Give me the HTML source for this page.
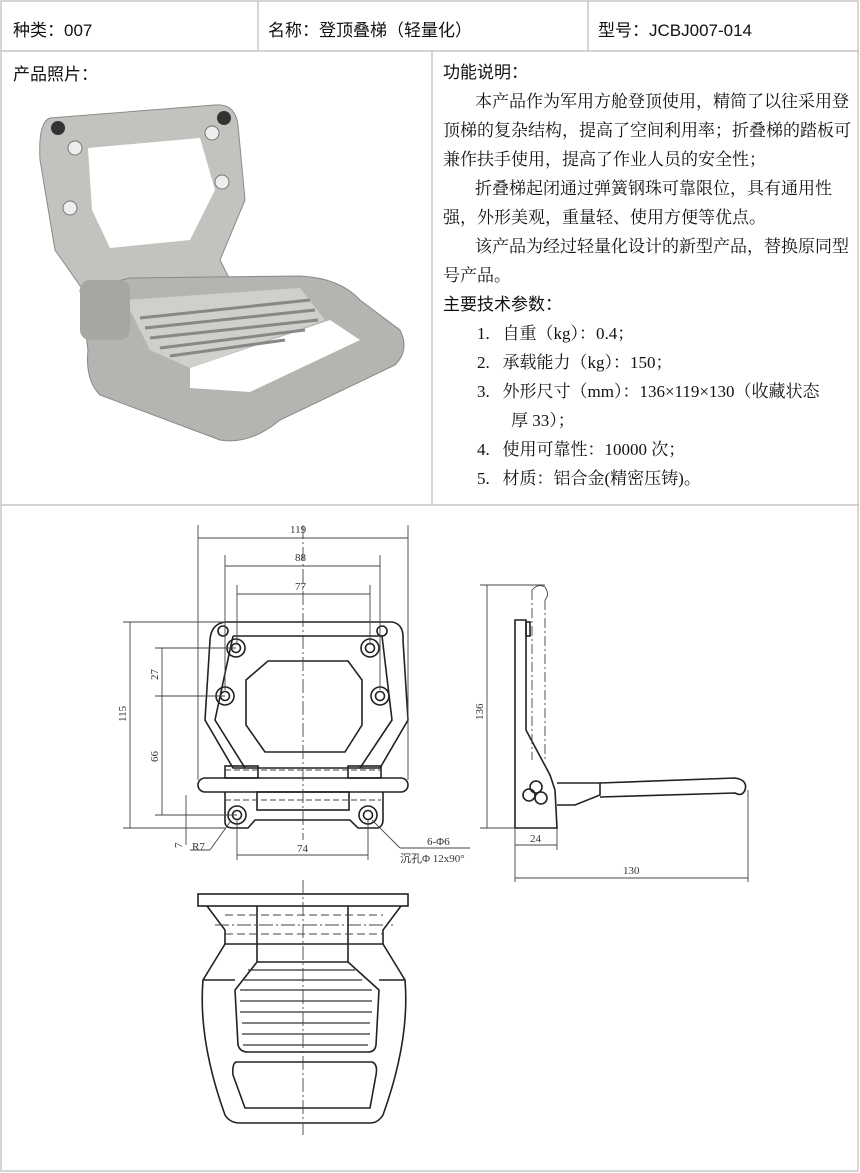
<!DOCTYPE html>
<html><head><meta charset="utf-8"><style>
body{margin:0;background:#fff;width:860px;height:1173px;position:relative;overflow:hidden;font-family:"Liberation Sans","Noto Sans CJK SC",sans-serif;}
.t{position:absolute;font-size:17px;color:#111;white-space:nowrap}
.p{position:absolute;font-family:"Liberation Serif","Noto Serif CJK SC",serif;font-size:17px;color:#111;white-space:nowrap}
</style></head><body>
<svg width="860" height="1173" style="position:absolute;left:0;top:0">
<g stroke="#bbb" stroke-width="1.2" fill="none">
<rect x="1" y="1" width="857" height="1170"/>
<line x1="1" y1="51" x2="859" y2="51"/>
<line x1="258" y1="1" x2="258" y2="51"/>
<line x1="588" y1="1" x2="588" y2="51"/>
<line x1="432" y1="51" x2="432" y2="505"/>
<line x1="1" y1="505" x2="859" y2="505"/>
</g>
<!-- photo -->
<g>
<path d="M50 118 L215 105 Q235 103 238 125 L245 200 L220 260 L240 300 L120 320 L90 300 L55 250 L40 160 Q38 122 50 118Z" fill="#c2c3be" stroke="#8a8b86"/>
<path d="M88 148 L200 138 L215 190 L190 240 L110 248 L92 210Z" fill="#fff"/>
<circle cx="58" cy="128" r="7" fill="#333"/><circle cx="224" cy="118" r="7" fill="#333"/>
<circle cx="75" cy="148" r="7" fill="#eee" stroke="#777"/><circle cx="212" cy="133" r="7" fill="#eee" stroke="#777"/>
<circle cx="70" cy="208" r="7" fill="#eee" stroke="#777"/><circle cx="222" cy="182" r="7" fill="#eee" stroke="#777"/>
<path d="M80 290 L130 278 L300 276 Q340 278 360 300 L400 330 Q410 350 395 365 L280 420 Q250 445 220 440 L100 395 Q85 380 88 350Z" fill="#b4b5b0" stroke="#888"/>
<path d="M190 368 L330 320 L360 340 L250 392 L190 388Z" fill="#fff"/>
<path d="M125 300 L300 288 L325 320 L190 368 L150 350Z" fill="#cfd0cb"/>
<g stroke="#888" stroke-width="3"><line x1="140" y1="318" x2="310" y2="300"/><line x1="145" y1="328" x2="315" y2="310"/><line x1="150" y1="338" x2="318" y2="320"/><line x1="160" y1="348" x2="305" y2="330"/><line x1="170" y1="356" x2="285" y2="340"/></g>
<rect x="80" y="280" width="50" height="60" rx="10" fill="#a6a7a2"/>
</g>
<!-- drawing -->
<g stroke="#222" stroke-width="1.6" fill="none">
<path d="M225 622 L392 622 Q404 624 403 640 L408 720 L380 768 L233 768 L205 720 L210 640 Q211 624 225 622Z"/>
<path d="M233 636 L382 636 L392 720 L360 768 M233 636 L215 720 L245 768"/>
<path d="M268 661 L348 661 L362 680 L362 725 L345 752 L265 752 L246 725 L246 680Z"/>
<rect x="198" y="778" width="210" height="14" rx="7"/>
<rect x="225" y="766" width="33" height="12"/><rect x="348" y="766" width="33" height="12"/>
<path d="M225 792 L225 823 Q226 828 233 828 L248 828 L255 820 L350 820 L358 828 L378 828 Q383 826 383 820 L383 792"/>
<rect x="257" y="792" width="92" height="18"/>
<circle cx="236" cy="648" r="9"/><circle cx="236" cy="648" r="4.5"/>
<circle cx="370" cy="648" r="9"/><circle cx="370" cy="648" r="4.5"/>
<circle cx="225" cy="696" r="9"/><circle cx="225" cy="696" r="4.5"/>
<circle cx="380" cy="696" r="9"/><circle cx="380" cy="696" r="4.5"/>
<circle cx="237" cy="815" r="9"/><circle cx="237" cy="815" r="4.5"/>
<circle cx="368" cy="815" r="9"/><circle cx="368" cy="815" r="4.5"/>
<circle cx="223" cy="631" r="5"/><circle cx="382" cy="631" r="5"/>
<path d="M518 620 L526 620 L526 730 L550 775 L555 790 L557 828 L515 828 L515 620Z"/>
<path d="M557 783 L600 783 L600 795 L575 805 L557 805"/>
<path d="M600 783 L735 778 Q748 780 745 790 Q742 797 735 793 L600 797"/>
<circle cx="536" cy="787" r="6"/><circle cx="529" cy="795" r="6"/><circle cx="541" cy="798" r="6"/>
<rect x="526" y="622" width="4" height="14"/>
<rect x="198" y="894" width="210" height="12"/>
<path d="M207 906 L225 930 L225 944 L383 944 L383 930 L401 906"/>
<path d="M257 906 L257 944 M348 906 L348 944 M225 944 L203 980 Q198 1040 225 1115 Q230 1123 240 1123 L370 1123 Q378 1123 383 1115 Q410 1040 405 980 L383 944"/>
<path d="M257 944 L257 962 L235 990 L238 1045 Q240 1052 248 1052 L368 1052 Q375 1052 376 1045 L379 990 L348 962 L348 944 M257 962 L348 962"/>
<line x1="203" y1="980" x2="235" y2="980"/><line x1="379" y1="980" x2="405" y2="980"/>
<path d="M236 1062 L372 1062 Q378 1064 376 1075 L370 1108 L245 1108 L233 1075 Q232 1064 236 1062Z"/>
</g>
<g stroke="#333" stroke-width="1.3">
<line x1="248" y1="970" x2="355" y2="970"/><line x1="244" y1="980" x2="362" y2="980"/><line x1="240" y1="990" x2="372" y2="990"/><line x1="240" y1="1001" x2="372" y2="1001"/><line x1="240" y1="1012" x2="372" y2="1012"/><line x1="242" y1="1023" x2="370" y2="1023"/><line x1="242" y1="1034" x2="370" y2="1034"/><line x1="243" y1="1045" x2="368" y2="1045"/>
</g>
<g stroke="#444" stroke-width="0.9" fill="none">
<line x1="303" y1="525" x2="303" y2="840" stroke-dasharray="14 3 2 3"/>
<line x1="303" y1="880" x2="303" y2="1135" stroke-dasharray="14 3 2 3"/>
<line x1="225" y1="770" x2="381" y2="770" stroke-dasharray="6 3"/>
<line x1="225" y1="800" x2="381" y2="800" stroke-dasharray="6 3"/>
<line x1="225" y1="915" x2="383" y2="915" stroke-dasharray="8 4"/>
<line x1="215" y1="925" x2="393" y2="925" stroke-dasharray="14 3 2 3"/>
<line x1="225" y1="934" x2="383" y2="934" stroke-dasharray="8 4"/>
<line x1="532" y1="590" x2="532" y2="760" stroke-dasharray="10 3 2 3"/>
<line x1="545" y1="600" x2="545" y2="760" stroke-dasharray="10 3 2 3"/>
<path d="M532 590 Q538 583 545 587 Q550 595 545 600"/>
<line x1="198" y1="525" x2="198" y2="780"/><line x1="408" y1="525" x2="408" y2="780"/>
<line x1="198" y1="538" x2="408" y2="538"/>
<line x1="225" y1="555" x2="225" y2="690"/><line x1="380" y1="555" x2="380" y2="690"/>
<line x1="225" y1="566" x2="380" y2="566"/>
<line x1="237" y1="585" x2="237" y2="645"/><line x1="370" y1="585" x2="370" y2="645"/>
<line x1="237" y1="594" x2="370" y2="594"/>
<line x1="123" y1="622" x2="225" y2="622"/><line x1="123" y1="828" x2="225" y2="828"/>
<line x1="130" y1="622" x2="130" y2="828"/>
<line x1="155" y1="648" x2="236" y2="648"/><line x1="155" y1="696" x2="225" y2="696"/><line x1="155" y1="815" x2="237" y2="815"/>
<line x1="162" y1="648" x2="162" y2="815"/>
<line x1="186" y1="795" x2="186" y2="845"/>
<line x1="237" y1="820" x2="237" y2="860"/><line x1="368" y1="820" x2="368" y2="860"/>
<line x1="237" y1="855" x2="368" y2="855"/>
<line x1="230" y1="822" x2="210" y2="850"/><line x1="190" y1="850" x2="210" y2="850"/>
<line x1="372" y1="820" x2="400" y2="848"/><line x1="400" y1="848" x2="470" y2="848"/>
<line x1="480" y1="585" x2="545" y2="585"/><line x1="480" y1="828" x2="515" y2="828"/>
<line x1="487" y1="585" x2="487" y2="828"/>
<line x1="515" y1="828" x2="515" y2="882"/><line x1="557" y1="828" x2="557" y2="850"/><line x1="748" y1="790" x2="748" y2="882"/>
<line x1="515" y1="845" x2="557" y2="845"/><line x1="515" y1="878" x2="748" y2="878"/>
</g>
<g font-family="Liberation Serif,serif" font-size="11" fill="#333">
<text x="290" y="533">119</text><text x="295" y="561">88</text><text x="295" y="590">77</text>
<text x="297" y="852">74</text>
<text transform="translate(126,722) rotate(-90)">115</text>
<text transform="translate(158,680) rotate(-90)">27</text>
<text transform="translate(158,762) rotate(-90)">66</text>
<text transform="translate(182,848) rotate(-90)">7</text>
<text x="192" y="850">R7</text>
<text x="427" y="845">6-Φ6</text>
<text x="400" y="862" font-family="Liberation Serif,'Noto Sans CJK SC',serif">沉孔Φ 12x90°</text>
<text transform="translate(483,720) rotate(-90)">136</text>
<text x="530" y="842">24</text><text x="623" y="874">130</text>
</g>
</svg>
<div class="t" style="left:13px;top:16px">种类：007</div>
<div class="t" style="left:268px;top:16px">名称：登顶叠梯（轻量化）</div>
<div class="t" style="left:598px;top:16px">型号：JCBJ007-014</div>
<div class="t" style="left:13px;top:60px">产品照片：</div>
<div class="t" style="left:443px;top:58px">功能说明：</div>
<div class="p" style="left:475px;top:87px">本产品作为军用方舱登顶使用，精简了以往采用登</div>
<div class="p" style="left:443px;top:116px">顶梯的复杂结构，提高了空间利用率；折叠梯的踏板可</div>
<div class="p" style="left:443px;top:145px">兼作扶手使用，提高了作业人员的安全性；</div>
<div class="p" style="left:475px;top:174px">折叠梯起闭通过弹簧钢珠可靠限位，具有通用性</div>
<div class="p" style="left:443px;top:203px">强，外形美观，重量轻、使用方便等优点。</div>
<div class="p" style="left:475px;top:232px">该产品为经过轻量化设计的新型产品，替换原同型</div>
<div class="p" style="left:443px;top:261px">号产品。</div>
<div class="t" style="left:443px;top:290px">主要技术参数：</div>
<div class="p" style="left:477px;top:319px">1.&nbsp;&nbsp;&nbsp;自重（kg）：0.4；</div>
<div class="p" style="left:477px;top:348px">2.&nbsp;&nbsp;&nbsp;承载能力（kg）：150；</div>
<div class="p" style="left:477px;top:377px">3.&nbsp;&nbsp;&nbsp;外形尺寸（mm）：136×119×130（收藏状态</div>
<div class="p" style="left:511px;top:406px">厚 33）；</div>
<div class="p" style="left:477px;top:435px">4.&nbsp;&nbsp;&nbsp;使用可靠性：10000 次；</div>
<div class="p" style="left:477px;top:464px">5.&nbsp;&nbsp;&nbsp;材质：铝合金(精密压铸)。</div>
</body></html>
